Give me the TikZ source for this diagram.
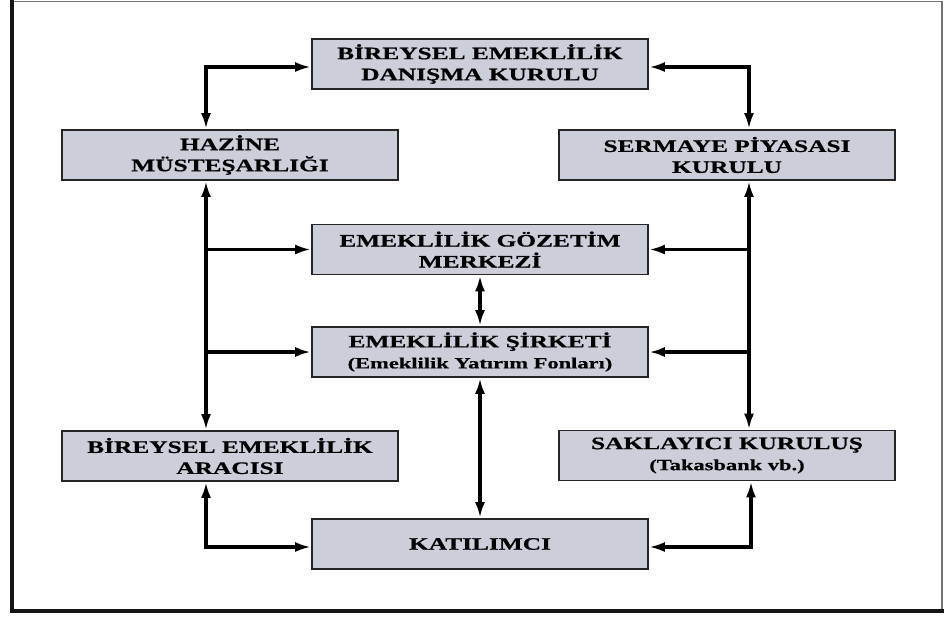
\documentclass[tikz,border=0pt]{standalone}
\usepackage{fontspec}
\setmainfont{Liberation Serif}
\newfontfamily\boxfont{Liberation Serif}[FakeStretch=1.45,BoldFeatures={FakeStretch=1.45,FakeBold=0.6}]
\usetikzlibrary{arrows.meta}
\definecolor{boxfill}{RGB}{204,207,218}
\definecolor{frameedge}{RGB}{20,20,20}
\begin{document}
\begin{tikzpicture}[x=1pt,y=-1pt,
  orgbox/.style={draw=black!85, line width=1.8pt, fill=boxfill,
    minimum width=336pt, minimum height=50pt, inner sep=0pt, align=center,
    font=\boxfont\bfseries\fontsize{17.5}{21}\selectfont},
  conn/.style={line width=3.4pt, draw=black,
    arrows={-Latex[length=16pt,width=10pt]}},
  both/.style={conn, {Latex[length=16pt,width=10pt]}-{Latex[length=16pt,width=10pt]}}]
\useasboundingbox (0,0) rectangle (945,616);
\fill[white] (0,0) rectangle (945,616);

% outer frame
\draw[line width=1.5pt, draw=black!55] (12,1.5) -- (942,1.5) -- (942,611);
\draw[line width=3.5pt, draw=frameedge] (12,0) -- (12,611) -- (944,611);

% boxes
\node[orgbox] (top) at (480,64)   {BİREYSEL EMEKLİLİK\\DANIŞMA KURULU};
\node[orgbox] (haz) at (230,155)  {HAZİNE\\MÜSTEŞARLIĞI};
\node[orgbox] (ser) at (727,155)  {SERMAYE PİYASASI\\KURULU};
\node[orgbox] (goz) at (480,249.5) {EMEKLİLİK GÖZETİM\\MERKEZİ};
\node[orgbox] (sir) at (480,352)  {EMEKLİLİK ŞİRKETİ\\{\fontsize{15.5}{19}\selectfont (Emeklilik Yatırım Fonları)}};
\node[orgbox] (ara) at (230,456)  {BİREYSEL EMEKLİLİK\\ARACISI};
\node[orgbox] (sak) at (727,455.5) {SAKLAYICI KURULUŞ\\{\fontsize{15.5}{19}\selectfont (Takasbank vb.)}};
\node[orgbox] (kat) at (480,544)  {KATILIMCI};

% vertical bus lines
\coordinate (lx) at (206,0);
\coordinate (rx) at (749,0);

% top links
\draw[both] (haz.north -| lx) |- ([yshift=-3pt]top.west);
\draw[both] (ser.north -| rx) |- ([yshift=-3pt]top.east);

% left bus
\draw[both] (haz.south -| lx) -- (ara.north -| lx);
\draw[conn] (lx |- goz.west) -- (goz.west);
\draw[conn] (lx |- sir.west) -- (sir.west);

% right bus
\draw[both] (ser.south -| rx) -- (sak.north -| rx);
\draw[conn] (rx |- goz.east) -- (goz.east);
\draw[conn] (rx |- sir.east) -- (sir.east);

% centre column
\draw[both] (goz.south) -- (sir.north);
\draw[both] (sir.south) -- (kat.north);

% bottom links
\draw[both] (ara.south -| lx) |- ([yshift=-3pt]kat.west);
\draw[both] ([xshift=2pt]sak.south -| rx) |- ([yshift=-3pt]kat.east);
\end{tikzpicture}
\end{document}
